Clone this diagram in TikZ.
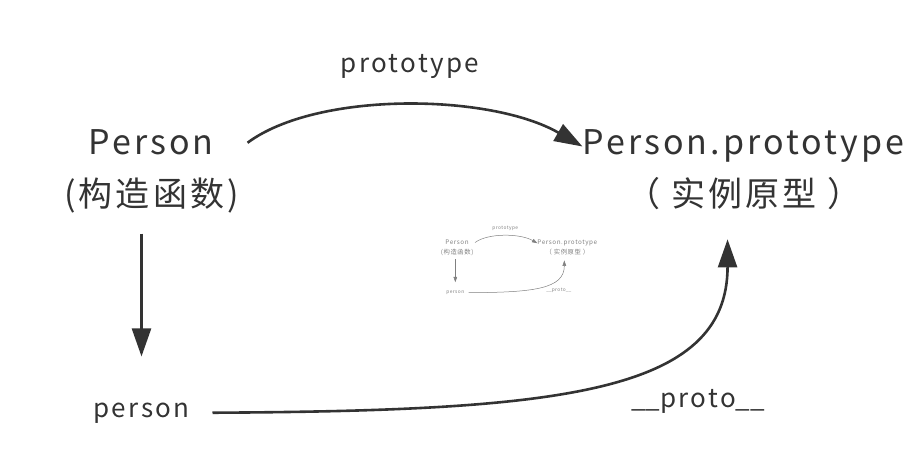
\documentclass[tikz,border=0pt]{standalone}
\usepackage{fontspec}
\setmainfont{Noto Sans CJK SC}[LetterSpace=9]
\newfontfamily\tightfont{Noto Sans CJK SC}
\usetikzlibrary{arrows.meta}
\colorlet{ink}{black!80}

% the whole map, drawn once full size and once as the little copy
\newcommand\protomap{%
  \node[big, outer xsep=34pt] (cons) at (151,306) {Person};
  \node[big, outer ysep=20pt] (cons-cn) at (151.5,254) {(构造函数)};
  \node[big] (proto) at (743.5,306) {Person.prototype};
  \node[big, outer ysep=29pt] (proto-cn) at (744,254) {（ 实例原型 ）};
  \node[small, outer xsep=23pt, outer ysep=46pt] (inst) at (141.5,44) {person};
  \node[small] (protolabel) at (410,388) {prototype};
  \node[small] (dunderlabel) at (698,54) {{\tightfont\_\_}proto{\tightfont\_\_}};

  \draw[link] (cons.east) .. controls +(70,52) and +(-92,53) .. (proto.west);
  \draw[link] (inst |- cons-cn.south) -- (inst.north);
  \draw[link] (inst.east) .. controls +(345,2) and +(0,-155) .. (proto-cn.-110);
}

\begin{document}
\begin{tikzpicture}[x=1pt, y=1pt,
    big/.style={font=\fontsize{34}{40}\selectfont, text=ink, inner sep=0pt, anchor=base},
    small/.style={font=\fontsize{26}{30}\selectfont, text=ink, inner sep=0pt, anchor=base},
    link/.style={-{Triangle[length=0pt 10.8, width=0pt 7.3]}, line width=2.6pt, draw=ink}
]
\useasboundingbox (0,0) rectangle (918,461);

\protomap

% small copy in the middle
\begin{scope}[shift={(429,159.3)}, scale=0.186, transform shape, name prefix=mini-,
    link/.append style={line width=0.5pt}]
  \colorlet{ink}{black!50}
  \protomap
\end{scope}

\end{tikzpicture}
\end{document}
